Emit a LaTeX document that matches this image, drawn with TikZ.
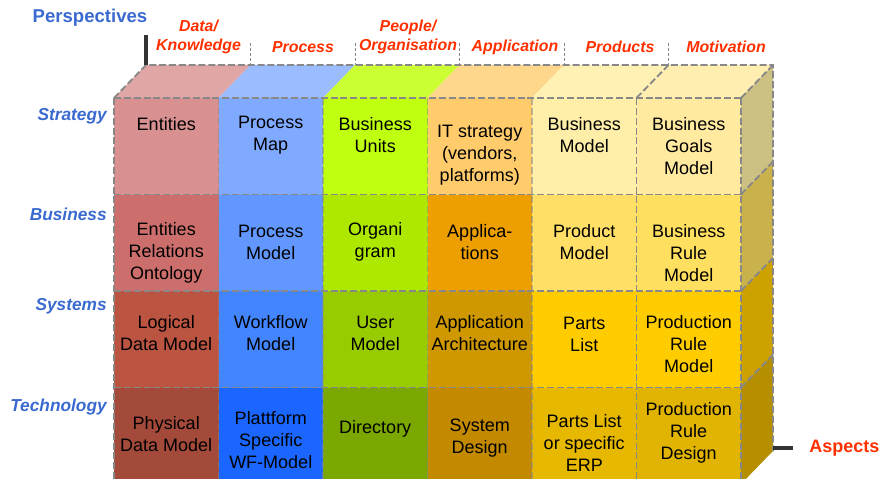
\documentclass[tikz,border=0pt]{standalone}
\usepackage{fontspec}
\setmainfont{Liberation Sans}
\usetikzlibrary{positioning}

\definecolor{persblue}{HTML}{3A69CF}
\definecolor{aspred}{HTML}{FF3000}
\definecolor{gridgray}{HTML}{888888}
\definecolor{axisgray}{HTML}{333333}

\definecolor{c10}{HTML}{E0A6A6}
\definecolor{c11}{HTML}{D99090}
\definecolor{c12}{HTML}{CC6F6C}
\definecolor{c13}{HTML}{BC5442}
\definecolor{c14}{HTML}{A44A3A}
\definecolor{c20}{HTML}{9BBCFF}
\definecolor{c21}{HTML}{80AAFF}
\definecolor{c22}{HTML}{6197FF}
\definecolor{c23}{HTML}{4285FF}
\definecolor{c24}{HTML}{1A66FF}
\definecolor{c30}{HTML}{CCFF33}
\definecolor{c31}{HTML}{BFFF10}
\definecolor{c32}{HTML}{AEE800}
\definecolor{c33}{HTML}{99CC00}
\definecolor{c34}{HTML}{7AA800}
\definecolor{c40}{HTML}{FFD78C}
\definecolor{c41}{HTML}{FFCB6B}
\definecolor{c42}{HTML}{ED9E00}
\definecolor{c43}{HTML}{CF9800}
\definecolor{c44}{HTML}{C38A00}
\definecolor{c50}{HTML}{FFF0B3}
\definecolor{c51}{HTML}{FFEEA8}
\definecolor{c52}{HTML}{FFDF66}
\definecolor{c53}{HTML}{FFCC00}
\definecolor{c54}{HTML}{E6B800}
\definecolor{c60}{HTML}{FFEEAF}
\definecolor{c61}{HTML}{FFEAA0}
\definecolor{c62}{HTML}{FFDF60}
\definecolor{c63}{HTML}{FFCC00}
\definecolor{c64}{HTML}{E0B400}
\definecolor{side1}{HTML}{CDC083}
\definecolor{side2}{HTML}{C9B24C}
\definecolor{side3}{HTML}{CCA100}
\definecolor{side4}{HTML}{B58F00}

\tikzset{
	celltext/.style={font=\fontsize{12.8}{15.6}\selectfont, align=center, inner sep=0pt},
	rowname/.style={font=\fontsize{12.3}{14}\selectfont\bfseries\itshape, text=persblue, anchor=east, inner sep=0pt},
	colname/.style={font=\fontsize{11.3}{13.6}\selectfont\bfseries\itshape, text=aspred, align=center, inner sep=0pt},
	gridline/.style={gridgray, line width=1.3pt, dash pattern=on 5pt off 2pt},
	faintline/.style={gridline, opacity=0.55},
	sepline/.style={gridgray, line width=0.7pt, dash pattern=on 2pt off 1.5pt},
	axisline/.style={axisgray, line width=2.2pt},
}

\begin{document}
\begin{tikzpicture}[x=0.025cm, y=-0.025cm]
\useasboundingbox (0,0) rectangle (883,479);
\clip (0,0) rectangle (883,479);

\newcommand\frontcell[2]{
	\fill[fill=c#1#2] ({114+(#1-1)*104.5}, {98+(#2-1)*96.5}) rectangle ++(104.5,96.5);
}
\newcommand\topcell[1]{
	\fill[fill=c#10] ({114+(#1-1)*104.5}, 98) -- ++(32,-33) -- ++(104.5,0) -- ++(-32,33) -- cycle;
}
\newcommand\sidecell[1]{
	\fill[fill=side#1] (741, {98+(#1-1)*96.5}) -- ++(32,-33) -- ++(0,96.5) -- ++(-32,33) -- cycle;
}
\newcommand\cellnode[4]{\node[celltext] (#1) at ({166.25+(#2-1)*104.5}, #3) {#4};}

\foreach \i in {1,...,6} {
	\topcell{\i}
	\foreach \j in {1,...,4} {\frontcell{\i}{\j}}
}
\foreach \j in {1,...,4} {\sidecell{\j}}

\foreach \i in {1,...,4}
	\draw[faintline] ({114+\i*104.5}, 98) -- ({114+\i*104.5}, 484);
\foreach \j in {0,...,3}
	\draw[gridline] (114, {98+\j*96.5}) -- (741, {98+\j*96.5});
\foreach \i in {0,5,6}
	\draw[gridline] ({114+\i*104.5}, 98) -- ({114+\i*104.5}, 484);
\draw[gridline] (114,98) -- (146,65) -- (773,65) -- (773,451);
\draw[gridline] (636.5,98) -- ++(32,-33);
\foreach \j in {0,...,3}
	\draw[gridline] (741, {98+\j*96.5}) -- ++(32,-33);

\foreach \i in {1,...,5}
	\draw[sepline] ({146+\i*104.5}, 43) -- ++(0,22);
\draw[axisline] (146,35) -- (146,65);

\node[font=\fontsize{13.2}{15}\selectfont\bfseries, text=persblue, inner sep=0pt] (persp) at (90,18) {Perspectives};

\node[colname] (data) at (198.5,37) {Data/\\Knowledge};
\node[colname] (process) at (303,47) {Process};
\node[colname] (people) at (408,37) {People/\\Organisation};
\node[colname] (application) at (515,47) {Application};
\node[colname] (products) at (620,47) {Products};
\node[colname] (motivation) at (726,47) {Motivation};

\node[rowname] (strategy) at (107,116) {Strategy};
\node[rowname] (business) at (107,214) {Business};
\node[rowname] (systems) at (107,306) {Systems};
\node[rowname] (technology) at (107,407) {Technology};

\node[font=\fontsize{12.8}{15}\selectfont\bfseries, text=aspred, anchor=west, inner sep=0pt] (aspects) at (809,448) {Aspects};
\coordinate (aspfoot) at (773,448);
\draw[axisline, shorten >=0.4cm] (aspfoot) -- (aspects.west);

\cellnode{ent}{1}{124}{Entities}
\cellnode{pmap}{2}{135}{Process\\Map}
\cellnode{bunits}{3}{135}{Business\\Units}
\cellnode{itstrat}{4}{155}{IT strategy\\(vendors,\\platforms)}
\cellnode{bmodel}{5}{135}{Business\\Model}
\cellnode{bgoals}{6}{146}{Business\\Goals\\Model}

\cellnode{erel}{1}{253}{Entities\\Relations\\Ontology}
\cellnode{pmodel}{2}{242}{Process\\Model}
\cellnode{orga}{3}{242}{Organi\\gram}
\cellnode{apps}{4}{242}{Applica-\\tions}
\cellnode{prodmodel}{5}{242}{Product\\Model}
\cellnode{brule}{6}{253}{Business\\Rule\\Model}

\cellnode{ldm}{1}{333}{Logical\\Data Model}
\cellnode{wfmodel}{2}{333}{Workflow\\Model}
\cellnode{umodel}{3}{333}{User\\Model}
\cellnode{apparch}{4}{333}{Application\\Architecture}
\cellnode{parts}{5}{334}{Parts\\List}
\cellnode{prmodel}{6}{344}{Production\\Rule\\Model}

\cellnode{pdm}{1}{434}{Physical\\Data Model}
\cellnode{wfplat}{2}{440}{Plattform\\Specific\\WF-Model}
\cellnode{dir}{3}{429}{Directory}
\cellnode{sysdes}{4}{438}{System\\Design}
\cellnode{erp}{5}{443}{Parts List\\or specific\\ERP}
\cellnode{prdesign}{6}{433}{Production\\Rule\\Design}

\end{tikzpicture}
\end{document}
